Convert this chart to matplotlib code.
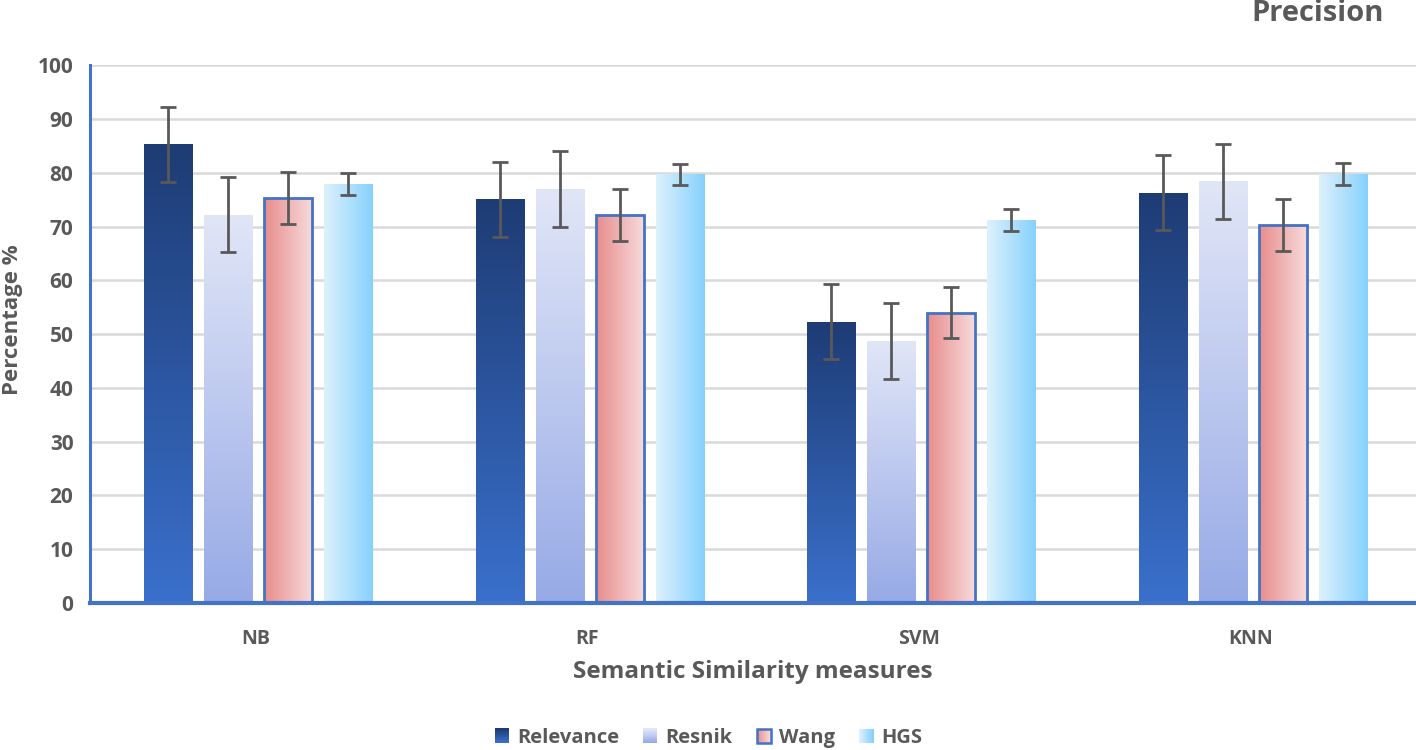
import matplotlib
matplotlib.use("Agg")
import matplotlib.pyplot as plt
import numpy as np
from matplotlib.colors import LinearSegmentedColormap
from matplotlib.legend_handler import HandlerBase
from matplotlib.patches import Rectangle, Patch

plt.rcParams['font.family'] = ['Open Sans', 'DejaVu Sans']

categories = ["NB", "RF", "SVM", "KNN"]
series = ["Relevance", "Resnik", "Wang", "HGS"]
relevance = [85.3, 75.1, 52.3, 76.3]
resnik = [72.2, 77.0, 48.7, 78.4]
wang = [75.3, 72.1, 54.0, 70.3]
hgs = [77.9, 79.7, 71.2, 79.8]
errors = [7.0, 7.0, 4.8, 2.0]
yticks = [0, 10, 20, 30, 40, 50, 60, 70, 80, 90, 100]

values = [relevance, resnik, wang, hgs]
# (start color, end color, direction, edgecolor)
styles = [
    ("#3A70CC", "#1E3C74", "v", None),
    ("#97AAE6", "#E1E6F7", "v", None),
    ("#E88C8C", "#F7DCDC", "h", "#4472C4"),
    ("#DDF1FD", "#86D1FC", "h", None),
]

TXT = "#595959"
fig = plt.figure(figsize=(14.16, 7.5), dpi=100)
ax = fig.add_axes([0.0636, 0.196, 0.9364, 0.717])

x = np.arange(len(categories))
width = 0.145
step = 0.181

ax.set_axisbelow(True)
ax.yaxis.grid(True, color="#D9D9D9", linewidth=1.8, zorder=0)

for i, (vals, (c0, c1, d, ec)) in enumerate(zip(values, styles)):
    pos = x + (i - 1.5) * step + 0.008
    cmap = LinearSegmentedColormap.from_list(f"g{i}", [c0, c1])
    bars = ax.bar(pos, vals, width, color="none",
                  edgecolor=ec if ec else "none", linewidth=2 if ec else 0, zorder=3)
    for b in bars:
        x0, y0 = b.get_x(), b.get_y()
        w, h = b.get_width(), b.get_height()
        if d == "v":
            grad = np.linspace(0, 1, 256).reshape(-1, 1)
        else:
            grad = np.linspace(0, 1, 256).reshape(1, -1)
        im = ax.imshow(grad, extent=[x0, x0 + w, y0, y0 + h], aspect="auto",
                       cmap=cmap, origin="lower", zorder=2)
        im.set_clip_path(b)
    ax.errorbar(pos, vals, yerr=errors[i], fmt="none", ecolor="#595959",
                elinewidth=2, capsize=6, capthick=2, zorder=4)

ax.set_xlim(-0.5, 3.5)
ax.set_ylim(0, 100)
ax.set_yticks(yticks)
ax.set_xticks(x)
ax.set_xticklabels(categories)
for s in ["top", "right"]:
    ax.spines[s].set_visible(False)
ax.spines["left"].set_color("#4472C4")
ax.spines["left"].set_linewidth(2.2)
ax.spines["bottom"].set_color("#4472C4")
ax.spines["bottom"].set_linewidth(3)
ax.tick_params(axis="both", length=0, labelcolor=TXT)
ax.tick_params(axis="y", pad=12, labelsize=15)
ax.tick_params(axis="x", pad=19, labelsize=14)
for lab in ax.get_xticklabels() + ax.get_yticklabels():
    lab.set_fontweight("bold")

ax.set_ylabel("Percentage %", fontsize=16, fontweight="bold", color=TXT)
ax.yaxis.set_label_coords(-0.0505, 0.526)
ax.set_xlabel("Semantic Similarity measures", fontsize=17.5, fontweight="bold", color=TXT, labelpad=8)
fig.text(0.977, 0.982, "Precision", ha="right", va="center", fontsize=21,
         fontweight="bold", color=TXT)


class GradHandler(HandlerBase):
    def __init__(self, c0, c1, d, ec):
        super().__init__()
        self.c0, self.c1, self.d, self.ec = c0, c1, d, ec

    def create_artists(self, legend, orig_handle, xdescent, ydescent, width, height, fontsize, trans):
        cmap = LinearSegmentedColormap.from_list("h", [self.c0, self.c1])
        side = height * 1.0
        x0 = -xdescent + (width - side) / 2
        y0 = -ydescent + (height - side) / 2
        arts = []
        n = 20
        for k in range(n):
            col = cmap(k / (n - 1))
            if self.d == "v":
                r = Rectangle((x0, y0 + side * k / n), side, side / n + 0.3, facecolor=col,
                              edgecolor="none", transform=trans)
            else:
                r = Rectangle((x0 + side * k / n, y0), side / n + 0.3, side, facecolor=col,
                              edgecolor="none", transform=trans)
            arts.append(r)
        if self.ec:
            arts.append(Rectangle((x0, y0), side, side, facecolor="none",
                                  edgecolor=self.ec, linewidth=1.8, transform=trans))
        return arts


handles = [Patch(label=s) for s in series]
hmap = {h: GradHandler(*st) for h, st in zip(handles, styles)}
leg = fig.legend(handles=handles, labels=series, handler_map=hmap, loc="center",
                 bbox_to_anchor=(0.5, 0.016), ncol=4, frameon=False,
                 prop={"size": 14.5, "weight": "bold"}, handlelength=0.8,
                 handletextpad=0.35, columnspacing=1.15)
for t in leg.get_texts():
    t.set_color(TXT)

fig.savefig("out.png", dpi=100)
